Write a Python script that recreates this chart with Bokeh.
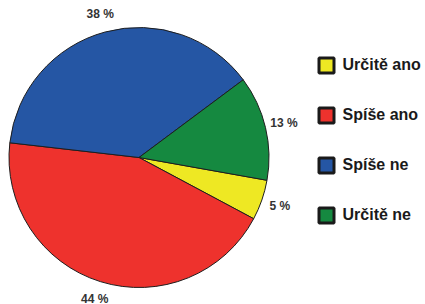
import math
from bokeh.plotting import figure
from bokeh.models import Range1d
from bokeh.core.properties import value
from bokeh.embed import file_html
from bokeh.resources import INLINE

# ---- data ----
categories = ["Určitě ano", "Spíše ano", "Spíše ne", "Určitě ne"]
percent = [5, 44, 38, 13]
colors = ["#EEE823", "#EE322D", "#2556A4", "#158940"]

# ---- layout (screen pixels) ----
W, H = 425, 304
def sy(y):  # screen y -> data y
    return H - y

cx, cy = 138.5, 157.0
R = 130
start_deg = -10.1
label_r = 149

p = figure(width=W, height=H, output_backend="svg", toolbar_location=None,
           x_range=Range1d(0, W), y_range=Range1d(0, H),
           min_border=0)
p.axis.visible = False
p.grid.visible = False
p.outline_line_color = None
p.background_fill_color = "white"
p.border_fill_color = "white"

# wedges
b = [start_deg]
for v in percent:
    b.append(b[-1] - v * 3.6)
starts = [math.radians(b[i + 1]) for i in range(len(percent))]
ends = [math.radians(b[i]) for i in range(len(percent))]
p.wedge(x=[cx] * len(percent), y=[sy(cy)] * len(percent), radius=R,
        radius_units="screen", start_angle=starts, end_angle=ends,
        fill_color=colors, line_color="#1e1e1e", line_width=1)

# percentage labels
lx, ly, lt = [], [], []
for i, v in enumerate(percent):
    mid = math.radians((b[i] + b[i + 1]) / 2)
    x = cx + label_r * math.cos(mid)
    y = cy - label_r * math.sin(mid)
    y = min(y, H - 6)
    lx.append(x)
    ly.append(sy(y))
    lt.append(f"{v} %")
p.text(x=lx, y=ly, text=lt, text_align="center", text_baseline="middle",
       text_font=value("Liberation Sans"), text_font_style="bold",
       text_font_size="12px", text_color="#333333")

# legend
row0, step = 65, 50
sq_x = 326
ys = [sy(row0 + i * step) for i in range(len(categories))]
p.rect(x=[sq_x] * len(categories), y=ys, width=15, height=15,
       width_units="screen", height_units="screen",
       fill_color=colors, line_color="#1a1a1a", line_width=3)
p.text(x=[342] * len(categories), y=[y + 1 for y in ys], text=categories,
       text_align="left", text_baseline="middle",
       text_font=value("Liberation Sans"), text_font_style="bold",
       text_font_size="16px", text_color="#1a1a1a")

open("out.html", "w").write(file_html(p, INLINE))
